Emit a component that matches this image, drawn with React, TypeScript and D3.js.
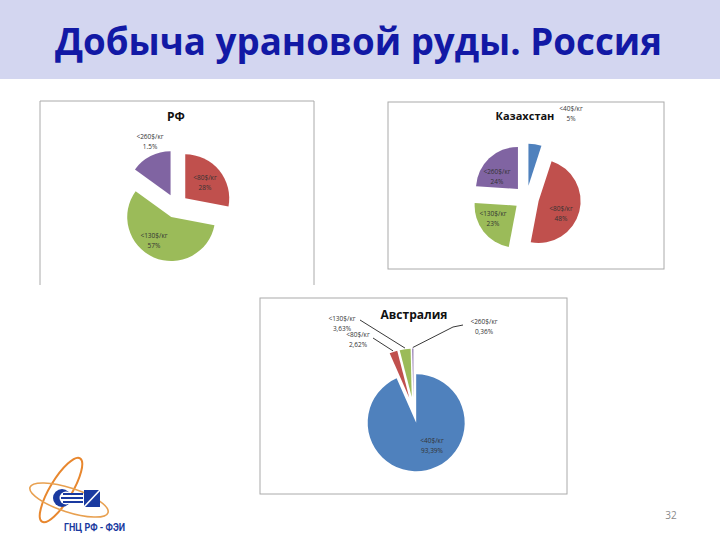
import * as React from 'react';
import * as d3 from 'd3';

const heading = 'Добыча урановой руды. Россия';
const pageNumber = '32';
const logoText = 'ГНЦ РФ - ФЭИ';

const sliceColors = ['#4f81bd', '#c0504d', '#9bbb59', '#8064a2'];

const rfLabels = ['<80$/кг', '<130$/кг', '<260$/кг'];
const rfValues = [28, 57, 15];
const rfPercents = ['28%', '57%', '1.5%'];
const rfColors = [sliceColors[1], sliceColors[2], sliceColors[3]];

const kzLabels = ['<40$/кг', '<80$/кг', '<130$/кг', '<260$/кг'];
const kzValues = [5, 48, 23, 24];
const kzPercents = ['5%', '48%', '23%', '24%'];

const auLabels = ['<40$/кг', '<80$/кг', '<130$/кг', '<260$/кг'];
const auValues = [93.39, 2.62, 3.63, 0.36];
const auPercents = ['93,39%', '2,62%', '3,63%', '0,36%'];

interface PieProps {
	title: string;
	titleX: number;
	titleY: number;
	titleSize: number;
	labels: string[];
	values: number[];
	percents: string[];
	colors: string[];
	cx: number;
	cy: number;
	radius: number;
	explode: number;
	labelAt: [number, number][];
	leaders?: ([number, number][] | null)[];
}

const ExplodedPie: React.FC<PieProps> = ({ title, titleX, titleY, titleSize, labels, values, percents, colors, cx, cy, radius, explode, labelAt, leaders }) => {
	const slices = d3.pie<number>().sort(null).value(d => d)(values);
	const createArc = d3.arc<d3.PieArcDatum<number>>().innerRadius(0).outerRadius(radius);
	const line = d3.line();

	return (
		<g>
			<text x={titleX} y={titleY} textAnchor='middle' fontFamily='Open Sans' fontWeight='bold' fontSize={titleSize} fill='#111'>
				{title}
			</text>
			{slices.map((d, i) => {
				const mid = (d.startAngle + d.endAngle) / 2;
				const dx = explode * Math.sin(mid);
				const dy = -explode * Math.cos(mid);
				const leader = leaders && leaders[i];
				const edge: [number, number] = [cx + dx + (radius + 1) * Math.sin(mid), cy + dy - (radius + 1) * Math.cos(mid)];
				return (
					<g key={i}>
						<path d={createArc(d) || ''} fill={colors[i]} transform={`translate(${cx + dx} ${cy + dy})`} />
						{leader && <path d={line([...leader, edge]) || ''} fill='none' stroke='#222' strokeWidth={0.9} />}
					</g>
				);
			})}
			{labels.map((label, i) => (
				<text key={i} textAnchor='middle' fontFamily='Open Sans' fontSize={6.5} fill='#333'>
					<tspan x={labelAt[i][0]} y={labelAt[i][1]}>{label}</tspan>
					<tspan x={labelAt[i][0]} y={labelAt[i][1] + 10}>{percents[i]}</tspan>
				</text>
			))}
		</g>
	);
};

const Logo = () => (
	<g>
		<ellipse cx={61} cy={490} rx={37} ry={11} fill='none' stroke='#e8872e' strokeWidth={2} transform='rotate(-59 61 490)' />
		<ellipse cx={69} cy={500} rx={41} ry={12} fill='none' stroke='#e8a050' strokeWidth={1.6} transform='rotate(18 69 500)' />
		<circle cx={62} cy={498} r={9} fill='#1a3aa0' />
		<circle cx={66} cy={498} r={6.5} fill='#fff' />
		<path d='M63 494H83M61 498H83M63 502H83' stroke='#1a3aa0' strokeWidth={1.8} />
		<rect x={84} y={490} width={16} height={17} fill='#1a3aa0' />
		<path d='M84 507L100 490' stroke='#fff' strokeWidth={1.6} />
		<text x={64} y={531} fontFamily='Liberation Sans Narrow, Roboto' fontWeight='bold' fontSize={10} fill='#1a3aa0' textLength={61} lengthAdjust='spacingAndGlyphs'>
			{logoText}
		</text>
	</g>
);

export default function App() {
	return (
		<svg width={720} height={540} style={{ position: 'absolute', left: 0, top: 0, background: '#fff' }}>
			<rect x={0} y={0} width={720} height={79} fill='#d3d6f0' />
			<text x={55} y={55} fontFamily='Open Sans' fontWeight='bold' fontSize={37} fill='#1219a5' textLength={607} lengthAdjust='spacingAndGlyphs'>
				{heading}
			</text>

			<path d='M40 285V101H314V285' fill='none' stroke='#aaa' strokeWidth={1} />
			<rect x={388} y={102} width={276} height={167} fill='none' stroke='#aaa' strokeWidth={1} />
			<rect x={260} y={298} width={307} height={196} fill='none' stroke='#aaa' strokeWidth={1} />

			<ExplodedPie
				title='РФ'
				titleX={176}
				titleY={121}
				titleSize={12}
				labels={rfLabels}
				values={rfValues}
				percents={rfPercents}
				colors={rfColors}
				cx={176}
				cy={206}
				radius={44}
				explode={12}
				labelAt={[[205, 180], [154, 238], [150, 139]]}
			/>
			<ExplodedPie
				title='Казахстан'
				titleX={525}
				titleY={120}
				titleSize={11}
				labels={kzLabels}
				values={kzValues}
				percents={kzPercents}
				colors={sliceColors}
				cx={526.5}
				cy={198}
				radius={42}
				explode={12.5}
				labelAt={[[571, 111], [561, 211], [493, 216], [497, 174]]}
			/>
			<ExplodedPie
				title='Австралия'
				titleX={414}
				titleY={319}
				titleSize={12}
				labels={auLabels}
				values={auValues}
				percents={auPercents}
				colors={sliceColors}
				cx={413.5}
				cy={410}
				radius={48.5}
				explode={13}
				labelAt={[[432, 443], [358, 337], [342, 321], [484, 324]]}
				leaders={[null, [[373, 338]], [[360, 320]], [[463, 325], [453, 327]]]}
			/>

			<Logo />
			<text x={671} y={519} textAnchor='middle' fontFamily='Open Sans' fontSize={10} fill='#8a8a8a'>
				{pageNumber}
			</text>
		</svg>
	);
}
